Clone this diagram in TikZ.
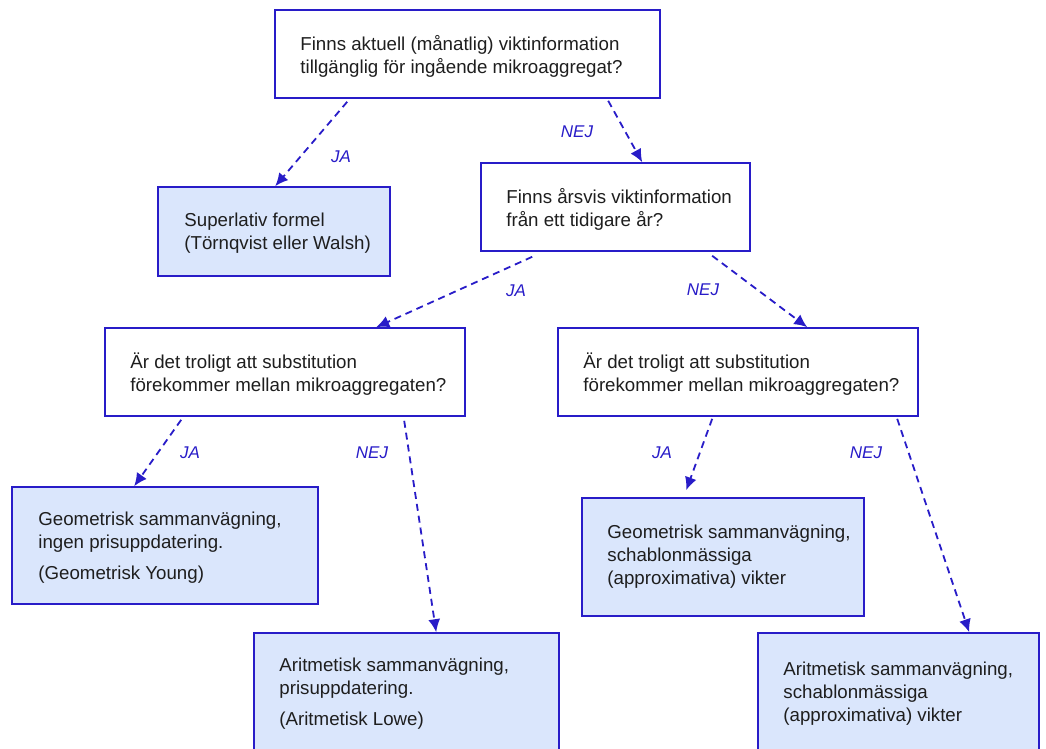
\documentclass[tikz,border=0pt]{standalone}
\usepackage{fontspec}
\setmainfont{Liberation Sans}
\usetikzlibrary{arrows.meta,calc}
\definecolor{bord}{RGB}{40,28,200}
\definecolor{boxfill}{RGB}{218,230,252}
\definecolor{txt}{RGB}{30,30,30}
\begin{document}
\begin{tikzpicture}[x=1pt,y=-1pt,
  qbox/.style={draw=bord,line width=1.6pt,fill=white,rectangle,inner sep=0pt},
  abox/.style={qbox,fill=boxfill},
  tx/.style={anchor=west,align=left,text=txt,inner sep=0pt,font=\fontsize{18.7}{23}\selectfont},
  conn/.style={draw=bord,line width=1.8pt,dash pattern=on 7pt off 5pt,-{Latex[length=13pt,width=12pt]}},
  lbl/.style={text=bord,inner sep=0pt,font=\fontsize{17}{20}\selectfont\itshape}]
\useasboundingbox (0,0) rectangle (1046,749);
\fill[white] (0,0) rectangle (1046,749);
\begin{scope}
\clip (0,0) rectangle (1046,749);
% boxes
\node[qbox,minimum width=385pt,minimum height=88pt] (q1) at (467.5,54) {};
\node[abox,minimum width=232pt,minimum height=89pt] (a1) at (274,231.5) {};
\node[qbox,minimum width=269pt,minimum height=88pt] (q2) at (615.5,207) {};
\node[qbox,minimum width=360pt,minimum height=88pt] (q3) at (285,372) {};
\node[qbox,minimum width=360pt,minimum height=88pt] (q4) at (738,372) {};
\node[abox,minimum width=306pt,minimum height=117pt] (a2) at (165,545.5) {};
\node[abox,minimum width=305pt,minimum height=122pt] (a3) at (406.5,694) {};
\node[abox,minimum width=282pt,minimum height=118pt] (a4) at (723,557) {};
\node[abox,minimum width=281pt,minimum height=122pt] (a5) at (898.5,694) {};
\end{scope}
% texts
\node[tx] (q1t) at ($(q1.west)+(26,2)$) {Finns aktuell (månatlig) viktinformation\\tillgänglig för ingående mikroaggregat?};
\node[tx] (a1t) at ($(a1.west)+(27,2)$) {Superlativ formel\\(Törnqvist eller Walsh)};
\node[tx] (q2t) at ($(q2.west)+(26,2)$) {Finns årsvis viktinformation\\från ett tidigare år?};
\node[tx] (q3t) at ($(q3.west)+(26,2)$) {Är det troligt att substitution\\förekommer mellan mikroaggregaten?};
\node[tx] (q4t) at ($(q4.west)+(26,2)$) {Är det troligt att substitution\\förekommer mellan mikroaggregaten?};
\node[tx] (a2t) at ($(a2.west)+(27,2)$) {Geometrisk sammanvägning,\\ingen prisuppdatering.\\[8pt](Geometrisk Young)};
\node[tx] (a3t) at ($(a3.north west)+(26,61)$) {Aritmetisk sammanvägning,\\prisuppdatering.\\[8pt](Aritmetisk Lowe)};
\node[tx] (a4t) at ($(a4.west)+(26,0)$) {Geometrisk sammanvägning,\\schablonmässiga\\(approximativa) vikter};
\node[tx] (a5t) at ($(a5.north west)+(26,61)$) {Aritmetisk sammanvägning,\\schablonmässiga\\(approximativa) vikter};
% connectors
\draw[conn] ($(q1.south west)+(73,3)$) -- ($(a1.north west)+(118,0)$);
\draw[conn] ($(q1.south west)+(334,2)$) -- ($(q2.north west)+(162,0)$);
\draw[conn] ($(q2.south west)+(52,5)$) -- ($(q3.north west)+(272,0)$);
\draw[conn] ($(q2.south west)+(232,4)$) -- ($(q4.north west)+(250,0)$);
\draw[conn] ($(q3.south west)+(77,3)$) -- ($(a2.north west)+(123,0)$);
\draw[conn] ($(q3.south west)+(300,4)$) -- ($(a3.north west)+(183,0)$);
\draw[conn] ($(q4.south west)+(155,2)$) -- ($(a4.north west)+(105,-7)$);
\draw[conn] ($(q4.south west)+(340,2)$) -- ($(a5.north west)+(212,0)$);
% labels
\node[lbl] (l1) at (341,157) {JA};
\node[lbl] (l2) at (577,132) {NEJ};
\node[lbl] (l3) at (516,291) {JA};
\node[lbl] (l4) at (703,290) {NEJ};
\node[lbl] (l5) at (190,453) {JA};
\node[lbl] (l6) at (372,453) {NEJ};
\node[lbl] (l7) at (662,453) {JA};
\node[lbl] (l8) at (866,453) {NEJ};
\end{tikzpicture}
\end{document}
